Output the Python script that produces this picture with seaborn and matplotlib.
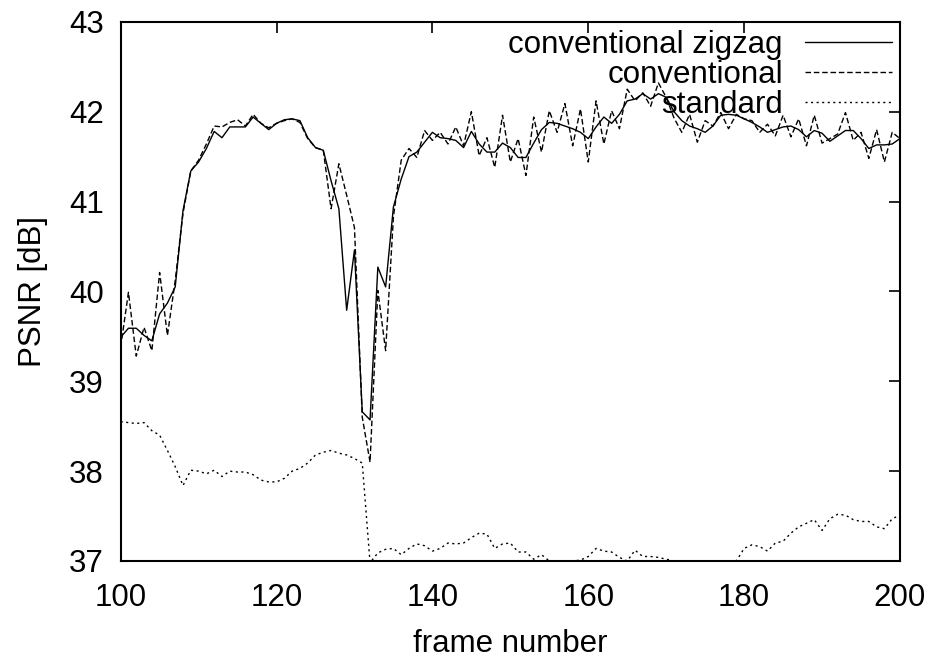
import matplotlib
matplotlib.use("Agg")

import numpy as np
import pandas as pd
import matplotlib.pyplot as plt
import seaborn as sns

frames = list(range(100, 201))

zigzag = [
    39.49, 39.59, 39.59, 39.51, 39.45, 39.75, 39.87, 40.05, 40.90, 41.34,
    41.44, 41.59, 41.78, 41.71, 41.83, 41.83, 41.83, 41.94, 41.87, 41.80,
    41.87, 41.91, 41.92, 41.90, 41.71, 41.60, 41.57, 41.23, 40.92, 39.79,
    40.46, 38.66, 38.57, 40.27, 40.05, 40.94, 41.25, 41.50, 41.55, 41.66,
    41.77, 41.71, 41.70, 41.68, 41.60, 41.78, 41.64, 41.55, 41.55, 41.65,
    41.60, 41.49, 41.49, 41.65, 41.80, 41.88, 41.87, 41.84, 41.81, 41.77,
    41.70, 41.83, 41.94, 41.87, 41.97, 42.12, 42.14, 42.20, 42.14, 42.20,
    42.16, 42.00, 41.90, 41.84, 41.81, 41.77, 41.84, 41.96, 41.97, 41.96,
    41.92, 41.88, 41.83, 41.77, 41.80, 41.83, 41.84, 41.80, 41.72, 41.79,
    41.76, 41.67, 41.73, 41.79, 41.79, 41.70, 41.59, 41.63, 41.63, 41.64,
    41.70,
]

conventional = [
    39.38, 39.99, 39.28, 39.60, 39.34, 40.21, 39.51, 40.12, 40.87, 41.34,
    41.46, 41.64, 41.84, 41.83, 41.88, 41.91, 41.84, 41.97, 41.87, 41.82,
    41.87, 41.90, 41.92, 41.88, 41.70, 41.60, 41.57, 40.92, 41.42, 41.07,
    40.71, 38.60, 38.10, 40.01, 39.34, 40.83, 41.46, 41.59, 41.49, 41.79,
    41.68, 41.77, 41.64, 41.83, 41.62, 42.00, 41.51, 41.71, 41.38, 41.96,
    41.44, 41.70, 41.29, 41.94, 41.55, 42.01, 41.77, 42.09, 41.62, 42.03,
    41.44, 42.12, 41.64, 42.01, 41.81, 42.25, 42.12, 42.21, 42.06, 42.32,
    42.16, 41.93, 41.77, 41.97, 41.66, 41.90, 41.84, 41.99, 41.81, 41.97,
    41.92, 41.90, 41.77, 41.86, 41.73, 41.96, 41.72, 41.92, 41.62, 41.96,
    41.65, 41.70, 41.75, 41.99, 41.68, 41.77, 41.48, 41.80, 41.44, 41.77,
    41.70,
]

standard = [
    38.55, 38.54, 38.53, 38.54, 38.45, 38.40, 38.23, 38.05, 37.84, 38.01,
    38.00, 37.97, 38.01, 37.94, 38.00, 37.99, 37.99, 37.96, 37.90, 37.88,
    37.88, 37.92, 38.00, 38.03, 38.09, 38.18, 38.21, 38.23, 38.20, 38.18,
    38.14, 38.09, 36.98, 37.09, 37.13, 37.14, 37.07, 37.14, 37.19, 37.17,
    37.11, 37.14, 37.20, 37.19, 37.20, 37.26, 37.31, 37.30, 37.14, 37.19,
    37.20, 37.10, 37.10, 37.02, 37.07, 37.00, 36.95, 36.95, 37.00, 37.01,
    37.05, 37.14, 37.11, 37.10, 37.04, 37.00, 37.12, 37.05, 37.05, 37.04,
    37.02, 37.00, 37.00, 36.90, 36.85, 36.85, 36.90, 36.90, 36.95, 37.00,
    37.14, 37.18, 37.16, 37.11, 37.20, 37.22, 37.31, 37.38, 37.42, 37.46,
    37.34, 37.47, 37.52, 37.51, 37.46, 37.44, 37.44, 37.38, 37.36, 37.47,
    37.51,
]

series_names = ["conventional zigzag", "conventional", "standard"]
series_values = [zigzag, conventional, standard]
line_styles = ["-", (0, (4, 2)), (0, (1.5, 2.5))]

x_ticks = [100, 120, 140, 160, 180, 200]
y_ticks = [37, 38, 39, 40, 41, 42, 43]

sns.set_style("white")
plt.rcParams["font.family"] = ["Liberation Sans", "DejaVu Sans"]
plt.rcParams["text.color"] = "black"
plt.rcParams["axes.labelcolor"] = "black"

fig = plt.figure(figsize=(9.31, 6.6), dpi=100)
ax = fig.add_axes([0.1296, 0.15, 0.9667 - 0.1296, 0.967 - 0.15])

for name, vals, ls in zip(series_names, series_values, line_styles):
    df = pd.DataFrame({"frame": frames, "psnr": vals})
    sns.lineplot(data=df, x="frame", y="psnr", ax=ax, color="black",
                 linewidth=1.0, linestyle=ls, label=name)

ax.set_xlim(100, 200)
ax.set_ylim(37, 43)
ax.set_xticks(x_ticks)
ax.set_yticks(y_ticks)
ax.tick_params(direction="in", length=8, width=1.2, top=True, right=True,
               labelsize=22.5, pad=12, colors="black")
ax.tick_params(axis="x", pad=16)
for sp in ax.spines.values():
    sp.set_color("black")
    sp.set_linewidth(1.5)

ax.set_xlabel("frame number", fontsize=22.5, labelpad=11)
ax.set_ylabel("PSNR [dB]", fontsize=22.5, labelpad=15)

leg = ax.legend(loc="upper right", frameon=False, markerfirst=False,
                fontsize=22.5, handlelength=2.8, handletextpad=0.7,
                labelspacing=0.0, borderpad=0.05, borderaxespad=0.2)
for line in leg.get_lines():
    line.set_linewidth(1.0)

fig.savefig("out.png", dpi=100, facecolor="white")
plt.close(fig)
